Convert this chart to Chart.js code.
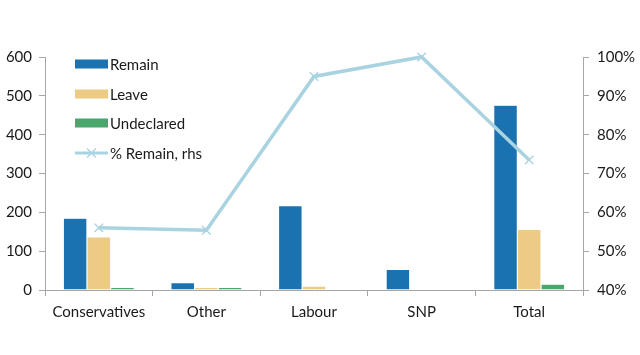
<!DOCTYPE html>
<html>
<head>
<meta charset="utf-8">
<script src="https://cdn.jsdelivr.net/npm/chart.js@4/dist/chart.umd.min.js"></script>
<style>
html,body{margin:0;padding:0;background:#fff;}
#wrap{width:640px;height:355px;position:relative;}
</style>
</head>
<body>
<div id="wrap"><canvas id="c" width="640" height="355"></canvas></div>
<script>
const categories = ["Conservatives", "Other", "Labour", "SNP", "Total"];
const remain = [185, 19, 217, 53, 476];
const leave = [137, 7, 10, 0, 156];
const undeclared = [7, 7, 0, 0, 15];
const pctRemain = [56.0, 55.4, 95.0, 100.0, 73.5];
const leftTicks = [0, 100, 200, 300, 400, 500, 600];
const rightTicks = [40, 50, 60, 70, 80, 90, 100];

const FONT = "Lato, 'Open Sans', sans-serif";
const AXIS = "#a6a6a6";

const legendPlugin = {
  id: 'insideLegend',
  afterDraw(chart) {
    const ctx = chart.ctx;
    const ds = chart.data.datasets;
    const orderIdx = [1, 2, 3, 0];
    const ys = [64, 94, 123, 153];
    ctx.save();
    ctx.font = "15px " + FONT;
    ctx.textBaseline = 'middle';
    orderIdx.forEach((di, i) => {
      const d = ds[di];
      const y = ys[i];
      if (d.type === 'line') {
        ctx.strokeStyle = d.borderColor;
        ctx.lineWidth = 3;
        ctx.beginPath(); ctx.moveTo(75, y); ctx.lineTo(108, y); ctx.stroke();
        ctx.lineWidth = 1.3;
        ctx.beginPath();
        ctx.moveTo(87, y - 4.5); ctx.lineTo(96, y + 4.5);
        ctx.moveTo(96, y - 4.5); ctx.lineTo(87, y + 4.5);
        ctx.stroke();
      } else {
        ctx.fillStyle = d.backgroundColor;
        ctx.fillRect(75, y - 4.5, 33, 9);
      }
      ctx.fillStyle = '#1a1a1a';
      ctx.fillText(d.label, 110, y + 1);
    });
    ctx.restore();
  }
};

new Chart(document.getElementById('c'), {
  data: {
    labels: categories,
    datasets: [
      { type: 'line', label: '% Remain, rhs', data: pctRemain, yAxisID: 'y1',
        borderColor: '#A9D3E1', backgroundColor: '#A9D3E1', borderWidth: 3.5,
        pointStyle: 'crossRot', pointRadius: 6, pointBorderWidth: 1.4,
        pointBorderColor: '#A9D3E1', tension: 0, order: 0, clip: false },
      { type: 'bar', label: 'Remain', data: remain, yAxisID: 'y',
        backgroundColor: '#1A72B0', borderColor: '#ffffff', borderWidth: 0.6, order: 1 },
      { type: 'bar', label: 'Leave', data: leave, yAxisID: 'y',
        backgroundColor: '#EDCB84', borderColor: '#ffffff', borderWidth: 0.6, order: 1 },
      { type: 'bar', label: 'Undeclared', data: undeclared, yAxisID: 'y',
        backgroundColor: '#49A66D', borderColor: '#ffffff', borderWidth: 0.6, order: 1 }
    ]
  },
  options: {
    responsive: false,
    animation: false,
    layout: { padding: { top: 57, left: 0, right: 0, bottom: 0 } },
    datasets: { bar: { barPercentage: 1.0, categoryPercentage: 0.66 } },
    plugins: { legend: { display: false }, tooltip: { enabled: false } },
    scales: {
      x: {
        offset: true,
        grid: { display: true, offset: true, drawOnChartArea: false, drawTicks: true, tickLength: 6, color: AXIS },
        border: { display: true, color: AXIS, width: 1 },
        ticks: { color: '#1a1a1a', font: { family: FONT, size: 15 }, padding: 7, maxRotation: 0 },
        afterFit(s) { s.height = 65; }
      },
      y: {
        position: 'left', min: 0, max: 600,
        grid: { drawOnChartArea: false, drawTicks: true, tickLength: 6, color: AXIS },
        border: { display: true, color: AXIS, width: 1 },
        ticks: { stepSize: 100, color: '#1a1a1a', font: { family: FONT, size: 15 }, padding: 7,
          callback: (v) => leftTicks.includes(v) ? String(v) : '' },
        afterFit(s) { s.width = 45; }
      },
      y1: {
        position: 'right', min: 40, max: 100,
        grid: { drawOnChartArea: false, drawTicks: true, tickLength: 6, color: AXIS },
        border: { display: true, color: AXIS, width: 1 },
        ticks: { stepSize: 10, color: '#1a1a1a', font: { family: FONT, size: 15 }, padding: 8,
          callback: (v) => rightTicks.includes(v) ? v + '%' : '' },
        afterFit(s) { s.width = 57; }
      }
    }
  },
  plugins: [legendPlugin]
});
</script>
</body>
</html>
